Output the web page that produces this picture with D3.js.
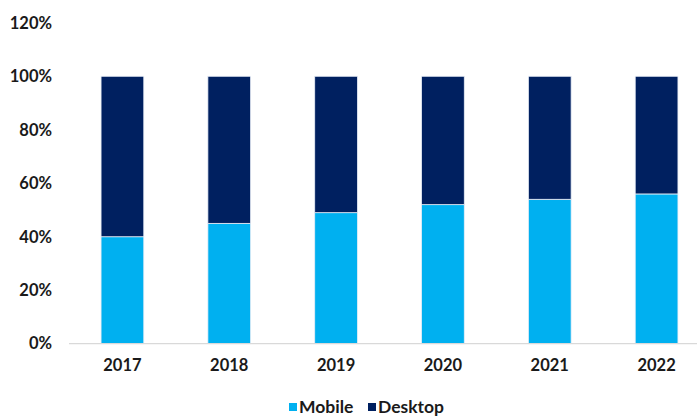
<!DOCTYPE html>
<html>
<head>
<meta charset="utf-8">
<script src="https://cdn.jsdelivr.net/npm/d3@7"></script>
<style>
  html, body { margin: 0; padding: 0; background: #fff; }
  svg { display: block; }
  text { font-family: Lato, "Open Sans", sans-serif; font-weight: 700; fill: #1a1a1a; }
</style>
</head>
<body>
<svg id="chart" width="697" height="416"></svg>
<script>
// Share of traffic by device, per year (percent)
const years = ["2017", "2018", "2019", "2020", "2021", "2022"];
const mobile = [40, 45, 49, 52, 54, 56];
const desktop = [60, 55, 51, 48, 46, 44];
const yTicks = [0, 20, 40, 60, 80, 100, 120];
const seriesNames = ["Mobile", "Desktop"];
const seriesColors = ["#00B0F0", "#002060"];

const svg = d3.select("#chart");

const x = d3.scaleBand().domain(years).range([69, 710]).paddingInner(0.6).paddingOuter(0.3);
const y = d3.scaleLinear().domain([0, 120]).range([343.7, 22.8]);

const rows = years.map((yr, i) => ({ year: yr, Mobile: mobile[i], Desktop: desktop[i] }));
const stacked = d3.stack().keys(seriesNames)(rows);

svg.append("g")
  .selectAll("g")
  .data(stacked)
  .join("g")
  .attr("fill", (d, i) => seriesColors[i])
  .selectAll("rect")
  .data(d => d)
  .join("rect")
  .attr("x", d => x(d.data.year))
  .attr("width", x.bandwidth())
  .attr("y", d => y(d[1]))
  .attr("height", d => y(d[0]) - y(d[1]))
  .attr("stroke", "#e8eef7")
  .attr("stroke-width", 0.8);

// Baseline
svg.append("line")
  .attr("x1", 69).attr("x2", 710)
  .attr("y1", y(0)).attr("y2", y(0))
  .attr("stroke", "#d9d9d9").attr("stroke-width", 1.2);

const labelFont = sel => sel
  .attr("font-size", 16.5)
  .attr("font-family", "Lato, sans-serif")
  .attr("font-weight", 700)
  .attr("fill", "#1a1a1a");

// Y axis labels
const yAxis = d3.axisLeft(y).tickValues(yTicks).tickFormat(d => d + "%").tickSize(0).tickPadding(0);
const gy = svg.append("g").attr("transform", "translate(52,0)").call(yAxis);
gy.select(".domain").remove();
gy.selectAll("text").call(labelFont);

// X axis labels
const xAxis = d3.axisBottom(x).tickSize(0).tickPadding(0);
const gx = svg.append("g").attr("transform", `translate(0,${y(0) + 16})`).call(xAxis);
gx.select(".domain").remove();
gx.selectAll("text").call(labelFont);

// Legend
const legend = svg.append("g").attr("transform", "translate(289,407)");
const legendX = [0, 79];
seriesNames.forEach((name, i) => {
  const g = legend.append("g").attr("transform", `translate(${legendX[i]},0)`);
  g.append("rect").attr("x", 0).attr("y", -4).attr("width", 8).attr("height", 8).attr("fill", seriesColors[i]);
  g.append("text").attr("x", 10).attr("y", 0).attr("dy", "0.35em").call(labelFont).attr("font-size", 17.5).text(name);
});
</script>
</body>
</html>
